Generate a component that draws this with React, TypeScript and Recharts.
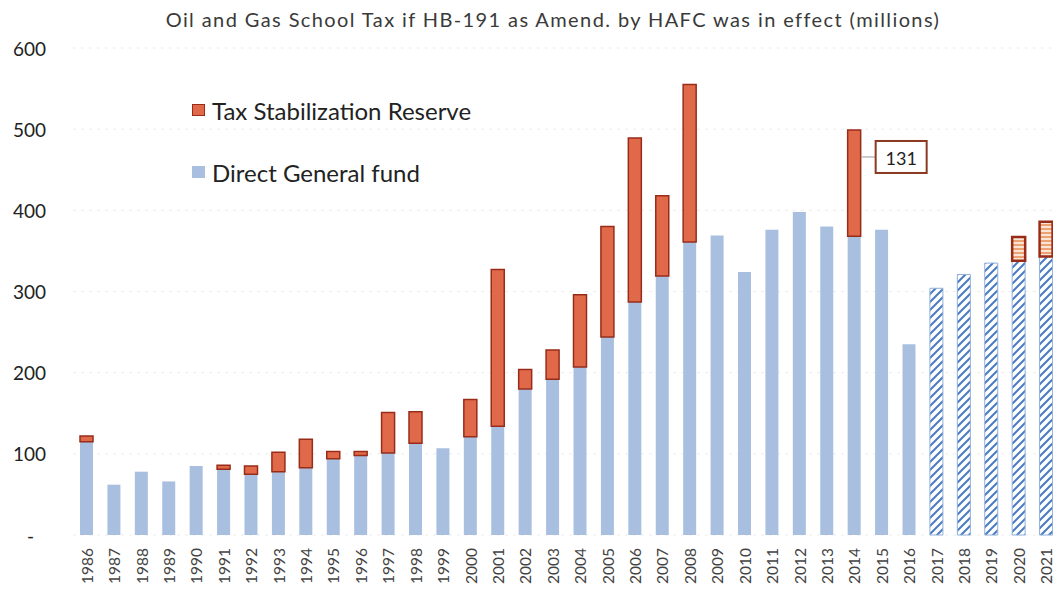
import { BarChart, Bar, XAxis, YAxis, CartesianGrid, Legend, Cell, LabelList } from "recharts";

const years = [
  1986, 1987, 1988, 1989, 1990, 1991, 1992, 1993, 1994, 1995, 1996, 1997,
  1998, 1999, 2000, 2001, 2002, 2003, 2004, 2005, 2006, 2007, 2008, 2009,
  2010, 2011, 2012, 2013, 2014, 2015, 2016, 2017, 2018, 2019, 2020, 2021,
];

// Direct General fund (millions)
const directGeneral = [
  115, 62, 78, 66, 85, 81, 75, 78, 83, 94, 98, 101,
  113, 107, 121, 134, 180, 192, 207, 244, 287, 319, 361, 369,
  324, 376, 398, 380, 368, 376, 235, 304, 321, 335, 338, 343,
];

// Tax Stabilization Reserve (millions)
const taxReserve = [
  7, null, null, null, null, 5, 10, 24, 35, 9, 5, 50,
  39, null, 46, 193, 24, 36, 89, 136, 202, 99, 194, null,
  null, null, null, null, 131, null, null, null, null, null, 29, 43,
];

const yTicks = [0, 100, 200, 300, 400, 500, 600];
const forecastFrom = 2017;
const calloutYear = 2014;

const data = years.map((year, i) => ({
  year: String(year),
  direct: directGeneral[i],
  reserve: taxReserve[i],
  callout: year === calloutYear ? taxReserve[i] : null,
}));

const font = "Lato, 'Open Sans', sans-serif";
const blue = "#a9bfe0";
const red = "#e0694a";
const redEdge = "#982c18";

function YearTick(props: any) {
  const { x, y, payload } = props;
  return (
    <text
      transform={`translate(${x},${y + 5}) rotate(-90)`}
      textAnchor="end"
      dominantBaseline="central"
      fontSize={15.5}
      fill="#444"
      fontFamily={font}
    >
      {payload.value}
    </text>
  );
}

function ValueTick(props: any) {
  const { y, payload } = props;
  const zero = payload.value === 0;
  return (
    <text
      x={zero ? 34 : 46}
      y={y}
      textAnchor="end"
      dominantBaseline="central"
      fontSize={19}
      fill="#222"
      fontFamily={font}
    >
      {zero ? "-" : payload.value}
    </text>
  );
}

function Callout(props: any) {
  const { x, y, width, value } = props;
  if (value == null) return null;
  const bx = x + width + 15;
  const cy = y + 27;
  return (
    <g>
      <line x1={x + width} x2={bx} y1={cy} y2={cy} stroke="#999" />
      <rect x={bx} y={cy - 16} width={51} height={32} fill="#fff" stroke="#8b3a22" strokeWidth={2} />
      <text x={bx + 25.5} y={cy + 1} textAnchor="middle" dominantBaseline="central" fontSize={18} fill="#222" fontFamily={font}>
        {value}
      </text>
    </g>
  );
}

function LegendBox() {
  const items = [
    { label: "Tax Stabilization Reserve", fill: red, edge: redEdge },
    { label: "Direct General fund", fill: blue, edge: blue },
  ];
  return (
    <div style={{ fontFamily: font }}>
      {items.map((it) => (
        <div key={it.label} style={{ display: "flex", alignItems: "center", height: 62, fontSize: 24, color: "#222" }}>
          <span style={{ width: 11, height: 10, background: it.fill, border: `1px solid ${it.edge}`, marginRight: 7 }} />
          {it.label}
        </div>
      ))}
    </div>
  );
}

export default function App() {
  return (
    <div style={{ position: "absolute", left: 0, top: 0, width: 1053, height: 590, overflow: "hidden", background: "#fff" }}>
      <svg width={0} height={0} style={{ position: "absolute" }}>
        <defs>
          <pattern id="hatchBlue" patternUnits="userSpaceOnUse" width={8} height={8}>
            <rect width={8} height={8} fill="#fff" />
            <path d="M-2,2 L2,-2 M0,8 L8,0 M6,10 L10,6" stroke="#4a7bbf" strokeWidth={2} />
          </pattern>
          <pattern id="hatchOrange" patternUnits="userSpaceOnUse" width={6} height={4}>
            <rect width={6} height={4} fill="#fbe6d4" />
            <line x1={0} x2={6} y1={1} y2={1} stroke="#e98b56" strokeWidth={1.5} />
          </pattern>
        </defs>
      </svg>
      <div
        style={{
          position: "absolute",
          top: 7,
          left: 0,
          width: 1106,
          textAlign: "center",
          fontFamily: font,
          fontSize: 20,
          letterSpacing: 1.4,
          color: "#3a3a3a",
        }}
      >
        Oil and Gas School Tax if HB-191 as Amend. by HAFC was in effect (millions)
      </div>
      <BarChart width={1070} height={590} data={data} margin={{ top: 48, right: 10, bottom: 0, left: 0 }} barSize={13}>
        <CartesianGrid vertical={false} stroke="#ececec" strokeDasharray="3 5" />
        <XAxis dataKey="year" interval={0} height={55} axisLine={false} tickLine={false} tick={<YearTick />} />
        <YAxis domain={[0, 600]} ticks={yTicks} width={73} axisLine={false} tickLine={false} tick={<ValueTick />} />
        <Legend
          layout="vertical"
          align="center"
          verticalAlign="middle"
          wrapperStyle={{ left: 192, top: 79, width: "auto" }}
          content={<LegendBox />}
        />
        <Bar dataKey="direct" name="Direct General fund" stackId="a" isAnimationActive={false}>
          {data.map((d) =>
            Number(d.year) >= forecastFrom ? (
              <Cell key={d.year} fill="url(#hatchBlue)" stroke="#8fb0dc" strokeWidth={1} />
            ) : (
              <Cell key={d.year} fill={blue} />
            )
          )}
        </Bar>
        <Bar dataKey="reserve" name="Tax Stabilization Reserve" stackId="a" isAnimationActive={false}>
          {data.map((d) => (
            <Cell
              key={d.year}
              fill={Number(d.year) >= forecastFrom ? "url(#hatchOrange)" : red}
              stroke={redEdge}
              strokeWidth={Number(d.year) >= forecastFrom ? 2.5 : 1.5}
            />
          ))}
          <LabelList dataKey="callout" content={<Callout />} />
        </Bar>
      </BarChart>
    </div>
  );
}
